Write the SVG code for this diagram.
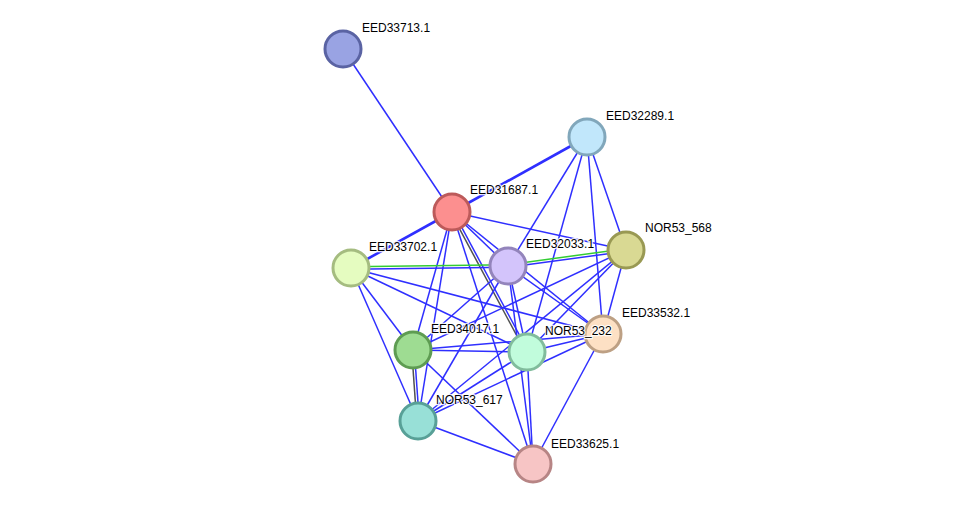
<svg xmlns="http://www.w3.org/2000/svg" width="975" height="511" viewBox="0 0 975 511">
<style>
.e{stroke:#2f2fff;stroke-width:1.5;fill:none}
.t{stroke-width:2.6}
.k{stroke:#505050;stroke-width:1.5}
.g{stroke:#33cc33;stroke-width:1.5}
.n circle{stroke-width:3}
.n text{font-family:"Liberation Sans",Arial,sans-serif;font-size:12px;fill:#000;stroke:#fff;stroke-width:2.5;stroke-opacity:0.85;paint-order:stroke;stroke-linejoin:round}
</style>
<rect width="975" height="511" fill="#fff"/>
<g id="edges">
<line class="e" x1="343" y1="49" x2="452" y2="212"/>
<line class="e t" x1="587" y1="137" x2="452" y2="212"/>
<line class="e" x1="587" y1="137" x2="508" y2="266"/>
<line class="e" x1="587" y1="137" x2="527" y2="352"/>
<line class="e" x1="587" y1="137" x2="603" y2="334"/>
<line class="e" x1="587" y1="137" x2="626" y2="250"/>
<line class="e" x1="452" y1="212" x2="626" y2="250"/>
<line class="e t" x1="452" y1="212" x2="351" y2="268"/>
<line class="e" x1="452" y1="212" x2="508" y2="266"/>
<line class="k" x1="450.85" y1="212.6" x2="525.85" y2="352.6"/>
<line class="e" x1="453.15" y1="211.4" x2="528.15" y2="351.4"/>
<line class="e" x1="452" y1="212" x2="413" y2="350"/>
<line class="e" x1="452" y1="212" x2="418" y2="421"/>
<line class="e" x1="452" y1="212" x2="533" y2="464"/>
<line class="e" x1="452" y1="212" x2="603" y2="334"/>
<line class="g" x1="351" y1="266.7" x2="508" y2="264.7"/>
<line class="e" x1="351" y1="269.3" x2="508" y2="267.3"/>
<line class="g" x1="507.8" y1="264.7" x2="625.8" y2="248.7"/>
<line class="e" x1="508.2" y1="267.3" x2="626.2" y2="251.3"/>
<line class="e" x1="351" y1="268" x2="413" y2="350"/>
<line class="e" x1="351" y1="268" x2="418" y2="421"/>
<line class="e" x1="351" y1="268" x2="527" y2="352"/>
<line class="e" x1="351" y1="268" x2="603" y2="334"/>
<line class="e" x1="508" y1="266" x2="413" y2="350"/>
<line class="e" x1="508" y1="266" x2="418" y2="421"/>
<line class="e" x1="508" y1="266" x2="527" y2="352"/>
<line class="e" x1="508" y1="266" x2="603" y2="334"/>
<line class="e" x1="508" y1="266" x2="533" y2="464"/>
<line class="e" x1="413" y1="350" x2="527" y2="352"/>
<line class="e" x1="413" y1="350" x2="603" y2="334"/>
<line class="k" x1="411.7" y1="350" x2="416.7" y2="421"/>
<line class="e" x1="414.3" y1="350" x2="419.3" y2="421"/>
<line class="e" x1="413" y1="350" x2="533" y2="464"/>
<line class="e" x1="413" y1="350" x2="626" y2="250"/>
<line class="e" x1="418" y1="421" x2="527" y2="352"/>
<line class="e" x1="418" y1="421" x2="626" y2="250"/>
<line class="e" x1="418" y1="421" x2="603" y2="334"/>
<line class="e" x1="418" y1="421" x2="533" y2="464"/>
<line class="e" x1="527" y1="352" x2="626" y2="250"/>
<line class="e" x1="527" y1="352" x2="603" y2="334"/>
<line class="e" x1="527" y1="352" x2="533" y2="464"/>
<line class="e" x1="603" y1="334" x2="626" y2="250"/>
<line class="e" x1="603" y1="334" x2="533" y2="464"/>
</g>
<g id="EED33713.1" class="n"><circle cx="343" cy="49" r="18" fill="#99a3e3" stroke="#5a63a3"/><text x="362" y="32">EED33713.1</text></g>
<g id="EED32289.1" class="n"><circle cx="587" cy="137" r="18" fill="#c1e7fb" stroke="#81a7bb"/><text x="606" y="120">EED32289.1</text></g>
<g id="EED31687.1" class="n"><circle cx="452" cy="212" r="18" fill="#fc8f8f" stroke="#bc5a5a"/><text x="470" y="194">EED31687.1</text></g>
<g id="NOR53_568" class="n"><circle cx="626" cy="250" r="18" fill="#d9d993" stroke="#999953"/><text x="645" y="232">NOR53_568</text></g>
<g id="EED33702.1" class="n"><circle cx="351" cy="268" r="18" fill="#e5fcc0" stroke="#a5bc80"/><text x="369" y="251">EED33702.1</text></g>
<g id="EED32033.1" class="n"><circle cx="508" cy="266" r="18" fill="#d3c4fb" stroke="#9384bb"/><text x="526" y="248">EED32033.1</text></g>
<g id="EED34017.1" class="n"><circle cx="413" cy="350" r="18" fill="#9edc92" stroke="#5e9c52"/><text x="431" y="333">EED34017.1</text></g>
<g id="EED33532.1" class="n"><circle cx="603" cy="334" r="18" fill="#fde0c4" stroke="#bda084"/><text x="622" y="317">EED33532.1</text></g>
<g id="NOR53_232" class="n"><circle cx="527" cy="352" r="18" fill="#c1fcdc" stroke="#81bc9c"/><text x="545" y="335">NOR53_232</text></g>
<g id="NOR53_617" class="n"><circle cx="418" cy="421" r="18" fill="#98e0d7" stroke="#58a097"/><text x="436" y="404">NOR53_617</text></g>
<g id="EED33625.1" class="n"><circle cx="533" cy="464" r="18" fill="#f7c5c5" stroke="#b78585"/><text x="551" y="448">EED33625.1</text></g>
</svg>
